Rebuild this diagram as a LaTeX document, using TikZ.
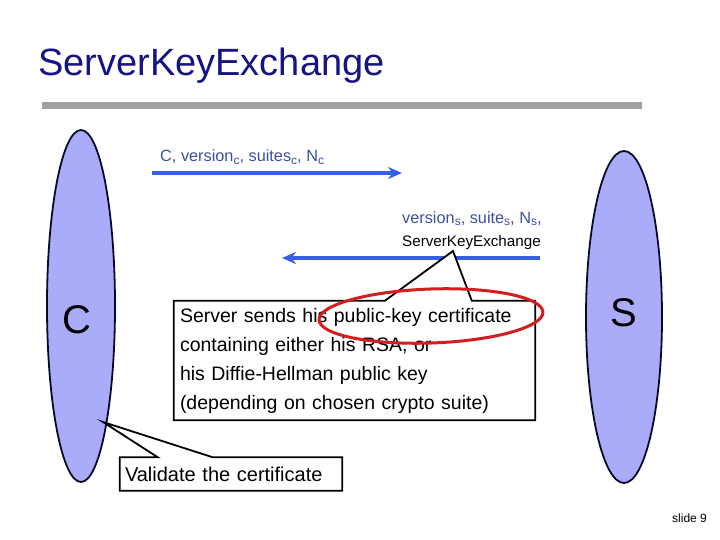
\documentclass[tikz,border=0pt]{standalone}
\usepackage{fontspec}
\setmainfont{Liberation Sans}
\usetikzlibrary{shapes.geometric,arrows.meta,calc}
\definecolor{titleblue}{RGB}{20,20,130}
\definecolor{ellfill}{RGB}{170,172,250}
\definecolor{elldraw}{RGB}{10,10,40}
\definecolor{arrowblue}{RGB}{55,95,230}
\definecolor{lblblue}{RGB}{60,80,160}
\definecolor{redring}{RGB}{210,30,30}
\definecolor{bargray}{RGB}{160,160,160}
\newcommand{\sbs}[1]{\raisebox{-0.3ex}{\fontsize{12}{12}\selectfont #1}}
\begin{document}
\begin{tikzpicture}[x=1pt,y=-1pt,
  party/.style={ellipse, draw=elldraw, line width=1.8pt, fill=ellfill, inner sep=0pt},
  partylbl/.style={font=\fontsize{40}{40}\selectfont, text=black, inner sep=0pt},
  msg/.style={line width=3.5pt, draw=arrowblue, -{Stealth[length=14pt,width=12pt]}},
  msglbl/.style={font=\fontsize{15.2}{23}\selectfont, inner sep=0pt, anchor=base west},
  bluelbl/.style={msglbl, font=\fontsize{16.3}{23}\selectfont, text=lblblue},
  callbox/.style={rectangle, fill=white, font=\fontsize{19.5}{29}\selectfont, align=left, inner sep=0pt},
  callline/.style={draw=black, line width=1.8pt, line join=miter}
]
\useasboundingbox (0,0) rectangle (720,540);

% title
\node[font=\fontsize{38}{38}\selectfont, text=titleblue, anchor=base west, inner sep=0pt] (title) at (38,76) {ServerKeyExchange};
\fill[bargray] (42,102) rectangle (642,109);

% parties
\node[party, minimum width=68pt, minimum height=352pt] (cE) at (81,306) {};
\node[party, minimum width=76pt, minimum height=332pt] (sE) at (624,317) {};
\node[partylbl] (cL) at (77,320) {C};
\node[partylbl] (sL) at (624,313) {S};

% message 1
\coordinate (m1a) at (152,173);
\coordinate (m1b) at (402,173);
\draw[msg] (m1a) -- (m1b);
\node[bluelbl] (l1) at (160,162) {C, version\sbs{c}, suites\sbs{c}, N\sbs{c}};

% message 2
\coordinate (m2a) at (540,258);
\coordinate (m2b) at (282,258);
\draw[msg] (m2a) -- (m2b);
\node[bluelbl] (l2) at (402,223) {version\sbs{s}, suite\sbs{s}, N\sbs{s},};
\node[msglbl, text=black] (l3) at (402,246) {ServerKeyExchange};

% main callout
\coordinate (tip1) at (453,251);
\node[callbox, minimum width=361pt, minimum height=119pt, text width=349pt] (cert) at (354.5,360.5)
  {Server sends his public-key certificate\\containing either his RSA, or\\his Diffie-Hellman public key\\(depending on chosen crypto suite)};
\fill[white] ($(cert.north west)+(211,1)$) -- (tip1) -- ($(cert.north west)+(298,1)$) -- cycle;
\draw[callline] ($(cert.north west)+(211,0)$) -- (tip1) -- ($(cert.north west)+(298,0)$)
  -- (cert.north east) -- (cert.south east) -- (cert.south west) -- (cert.north west) -- cycle;

% red ring
\node[ellipse, draw=redring, line width=3pt, minimum width=224pt, minimum height=54pt, inner sep=0pt, rotate=2] (ring) at (431,316) {};

% validate callout
\coordinate (tip2) at (103,422);
\node[callbox, font=\fontsize{20}{29}\selectfont, minimum width=222pt, minimum height=33pt, text width=212pt] (valid) at (231,474)
  {Validate the certificate};
\fill[white] ($(valid.north west)+(38,1)$) -- (tip2) -- ($(valid.north west)+(93,1)$) -- cycle;
\draw[callline] ($(valid.north west)+(38,0)$) -- (tip2) -- ($(valid.north west)+(93,0)$)
  -- (valid.north east) -- (valid.south east) -- (valid.south west) -- (valid.north west) -- cycle;

% slide number
\node[font=\fontsize{12}{12}\selectfont, anchor=base west, inner sep=0pt] (slide) at (672,522) {slide 9};
\end{tikzpicture}
\end{document}
